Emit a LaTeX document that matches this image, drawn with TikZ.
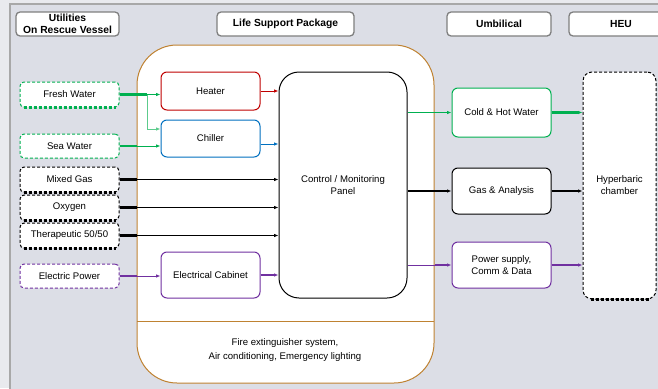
\documentclass[tikz,border=0pt]{standalone}
\usepackage{fontspec}
\setmainfont{Liberation Sans}
\usetikzlibrary{arrows.meta}
\definecolor{cgreen}{HTML}{00B050}
\definecolor{cgreenl}{HTML}{5CCB8C}
\definecolor{cred}{HTML}{C00000}
\definecolor{cblue}{HTML}{0070C0}
\definecolor{cpurple}{HTML}{7030A0}
\definecolor{corange}{HTML}{BF8232}
\definecolor{bgin}{HTML}{DCDEE6}
\definecolor{bgout}{HTML}{E9EAEE}
\definecolor{hdrgrey}{HTML}{7F7F7F}
\definecolor{framegrey}{HTML}{A8A8A8}
\tikzset{
  hdr/.style={draw=hdrgrey, line width=1.3pt, fill=white, rounded corners=4pt,
    font=\bfseries\fontsize{10.3}{12}\selectfont, align=center, inner sep=0pt, minimum height=24pt},
  dbox/.style={line width=1pt, dash pattern=on 3pt off 2pt, fill=white, rounded corners=4pt,
    font=\fontsize{9.6}{12}\selectfont, inner sep=0pt, minimum width=99pt},
  dbot/.style={line width=2.2pt, dash pattern=on 3pt off 2pt},
  sbox/.style={line width=1pt, fill=white, rounded corners=6pt,
    font=\fontsize{9.6}{12}\selectfont, align=center, inner sep=0pt, minimum width=99pt},
  conn/.style={line width=0.9pt, -{Latex[length=4.5pt,width=3.6pt]}},
  stub/.style={line width=2.2pt},
}
\begin{document}
\begin{tikzpicture}[x=1pt,y=-1pt]
\useasboundingbox (0,0) rectangle (658,388);
\clip (0,0) rectangle (658,388);
% background
\fill[bgout] (0,0) rectangle (658,388);
\fill[bgin] (10,4) rectangle (670,400);
\draw[framegrey, line width=1.5pt] (10,400) -- (10,4) -- (670,4);

% headers
\node[hdr, minimum width=103pt] (hutil) at (67.5,24) {Utilities\\On Rescue Vessel};
\node[hdr, minimum width=137pt] (hlsp) at (285.5,24) {Life Support Package};
\node[hdr, minimum width=104pt] (humb) at (499,24) {Umbilical};
\node[hdr, minimum width=104pt] (hheu) at (621,24) {};
\node[font=\bfseries\fontsize{10.3}{12}\selectfont] (hheut) at (621,24) {HEU};

% life support package box
\node[draw=corange, line width=1pt, fill=white, rounded corners=40pt,
  minimum width=297pt, minimum height=338pt, inner sep=0pt] (lsp) at (285.5,214) {};
\coordinate (divl) at (137,321);
\coordinate (divr) at (434,321);
\draw[corange, line width=0.9pt] (divl) -- (divr);
\node[font=\fontsize{9.6}{13.5}\selectfont, align=center] (fire) at (285,350)
  {Fire extinguisher system,\\Air conditioning, Emergency lighting};

% utilities
\node[dbox, draw=cgreen, minimum height=25pt] (fresh) at (69.5,94.5) {Fresh Water};
\node[dbox, draw=cgreen, minimum height=24pt] (sea) at (69.5,146) {Sea Water};
\node[dbox, draw=black, minimum height=25pt] (mixed) at (69.5,179.5) {Mixed Gas};
\node[dbox, draw=black, minimum height=25pt] (oxy) at (69.5,207.5) {Oxygen};
\node[dbox, draw=black, minimum height=25pt] (thera) at (69.5,235.5) {Therapeutic 50/50};
\node[dbox, draw=cpurple, minimum height=24pt] (elec) at (69.5,276) {Electric Power};
\draw[dbot, cgreen] ([xshift=4pt]fresh.south west) -- ([xshift=-4pt]fresh.south east);
\draw[dbot, black] ([xshift=4pt]mixed.south west) -- ([xshift=-4pt]mixed.south east);
\draw[dbot, black] ([xshift=4pt]oxy.south west) -- ([xshift=-4pt]oxy.south east);
\draw[dbot, black] ([xshift=4pt]thera.south west) -- ([xshift=-4pt]thera.south east);

% LSP inner boxes
\node[sbox, draw=cred, minimum height=38pt] (heater) at (210.5,91) {Heater};
\node[sbox, draw=cblue, minimum height=37pt] (chiller) at (210.5,138.5) {Chiller};
\node[sbox, draw=cpurple, minimum height=46pt] (cab) at (210.5,275) {Electrical Cabinet};
\node[draw=black, line width=1pt, fill=white, rounded corners=20pt, minimum width=128pt,
  minimum height=226pt, inner sep=0pt, font=\fontsize{9.6}{11.5}\selectfont, align=center]
  (ctrl) at (343,185) {Control / Monitoring\\Panel};

% umbilical
\node[sbox, draw=cgreen, minimum height=49pt] (cold) at (501.5,112.5) {Cold \& Hot Water};
\node[sbox, draw=black, minimum height=46pt] (gas) at (501.5,191) {Gas \& Analysis};
\node[sbox, draw=cpurple, minimum height=46pt] (power) at (501.5,265) {Power supply,\\Comm \& Data};

% HEU
\node[draw=black, line width=1pt, dash pattern=on 3pt off 2pt, fill=white, rounded corners=9pt,
  minimum width=73pt, minimum height=227pt, inner sep=0pt, font=\fontsize{9.6}{12}\selectfont,
  align=center] (heu) at (619.5,185.5) {Hyperbaric\\chamber};
\draw[dbot, black] ([xshift=8pt]heu.south west) -- ([xshift=-8pt]heu.south east);

% connectors: utilities -> LSP
\coordinate (br) at (147,94.5);
\draw[stub, cgreen] (fresh.east) -- (br);
\draw[conn, cgreen] (fresh.east) -- (fresh.east -| heater.west);
\draw[conn, cgreenl] (br) |- ([yshift=9.5pt]chiller.west);
\draw[stub, cgreen] (sea.east) -- (sea.east -| lsp.west);
\draw[conn, cgreen] (sea.east) -- (sea.east -| chiller.west);
\draw[stub, black] (mixed.east) -- (mixed.east -| lsp.west);
\draw[conn, black] (mixed.east) -- (mixed.east -| ctrl.west);
\draw[stub, black] (oxy.east) -- (oxy.east -| lsp.west);
\draw[conn, black] (oxy.east) -- (oxy.east -| ctrl.west);
\draw[stub, black] (thera.east) -- (thera.east -| lsp.west);
\draw[conn, black] (thera.east) -- (thera.east -| ctrl.west);
\draw[stub, cpurple] (elec.east) -- (elec.east -| lsp.west);
\draw[conn, cpurple] (elec.east) -- (elec.east -| cab.west);

% inner LSP
\draw[conn, cred] (heater.east) -- (heater.east -| ctrl.west);
\draw[conn, cblue] ([yshift=-5.5pt]chiller.east) -- ([yshift=-5.5pt]chiller.east -| ctrl.west);
\draw[conn, cpurple, line width=1.8pt] (cab.east) -- (cab.east -| ctrl.west);

% LSP -> umbilical
\draw[stub, cgreen, line width=1.8pt] (cold.west -| lsp.east) -- ([xshift=-3pt]cold.west);
\draw[conn, cgreen] (ctrl.east |- cold.west) -- (cold.west);
\draw[conn, black, line width=2pt] (ctrl.east |- gas.west) -- (gas.west);
\draw[stub, cpurple, line width=1.8pt] (power.west -| lsp.east) -- ([xshift=-3pt]power.west);
\draw[conn, cpurple] (ctrl.east |- power.west) -- (power.west);

% umbilical -> HEU
\draw[conn, cgreen, line width=2.4pt] (cold.east) -- (cold.east -| heu.west);
\draw[conn, black, line width=2.8pt] (gas.east) -- (gas.east -| heu.west);
\draw[conn, cpurple, line width=2pt] (power.east) -- (power.east -| heu.west);
\end{tikzpicture}
\end{document}
